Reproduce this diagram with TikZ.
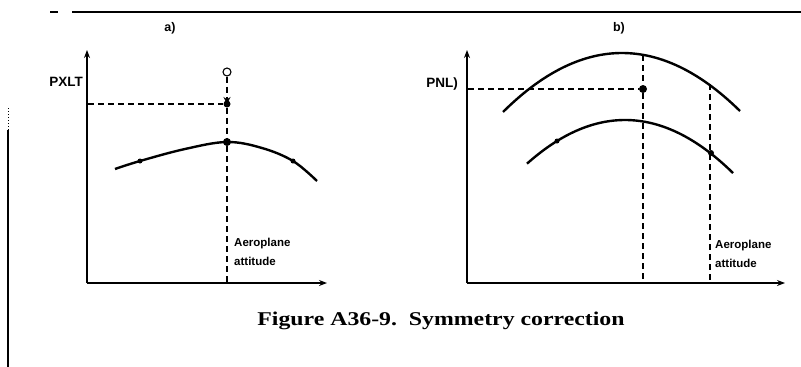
\documentclass[tikz,border=0pt]{standalone}
\usepackage{fontspec}
\setmainfont{Liberation Serif}
\newfontfamily\labfont{Liberation Sans}
\usetikzlibrary{arrows.meta}
\begin{document}
\begin{tikzpicture}[x=1pt,y=-1pt,
  axis/.style={line width=1.6pt,-{Stealth[length=8pt,width=6pt]}},
  guide/.style={dash pattern=on 6pt off 4pt,line width=1.2pt},
  curve/.style={line width=2.4pt},
  rule/.style={line width=1.5pt},
  lbl/.style={font=\labfont\bfseries\fontsize{11.5}{19}\selectfont,inner sep=0pt,anchor=north west,align=left},
  axlbl/.style={font=\labfont\bfseries\fontsize{12.5}{14}\selectfont,inner sep=0pt},
  dot/.style={circle,fill=black,inner sep=0pt,minimum size=#1},
  dot/.default=6pt]
\useasboundingbox (0,0) rectangle (801,367);
% page rules
\draw[rule] (50,12) -- (58,12);
\draw[rule] (72,12) -- (801,12);
\draw[line width=1pt,dotted] (8,108) -- (8,130);
\draw[line width=1.5pt] (8,130) -- (8,367);
% ---------- panel a ----------
\node[axlbl] (ta) at (170,28) {a)};
\coordinate (oa) at (87,283);
\coordinate (ya) at (87,50);
\coordinate (xa) at (327,283);
\draw[axis] (oa) -- (ya);
\draw[axis] (oa) -- (xa);
\node[axlbl,anchor=east,font=\labfont\bfseries\fontsize{13.5}{15}\selectfont] (la) at (83,82) {PXLT};
\draw[curve] plot[smooth,tension=0.6] coordinates {(115,169) (140,161) (185,149) (227,142) (262,148) (293,161) (317,181)};
\node[dot=5pt] (ma1) at (140,161) {};
\node[dot=5pt] (ma2) at (293,161) {};
\node[dot=8pt] (ka) at (227,142) {};
\node[circle,draw,line width=1.1pt,inner sep=0pt,minimum size=8pt] (oc) at (227,72) {};
\coordinate (pa) at (227,104);
\coordinate (ha) at (88,104);
\coordinate (ba) at (227,283);
\draw[guide,-{Stealth[length=7pt,width=7pt]}] (oc) -- (pa);
\node[dot=7pt] (da) at (pa) {};
\draw[guide] (ha) -- (da);
\draw[guide] (da) -- (ka);
\draw[guide,line width=2pt] (ka) -- (ba);
\node[lbl] (aa) at (234,238) {Aeroplane\\attitude};
% ---------- panel b ----------
\node[axlbl] (tb) at (619,28) {b)};
\coordinate (ob) at (467,283);
\coordinate (yb) at (467,50);
\coordinate (xb) at (785,283);
\draw[axis] (ob) -- (yb);
\draw[axis] (ob) -- (xb);
\node[axlbl,anchor=east,font=\labfont\bfseries\fontsize{13.5}{15}\selectfont] (lb) at (458,84) {PNL)};
\draw[curve,domain=503:740,samples=60] plot (\x,{53+0.00417*(\x-622)*(\x-622)});
\draw[curve,domain=527:733,samples=60] plot (\x,{120+0.00455*(\x-625)*(\x-625)});
\node[dot=5pt] (mb1) at (557,141) {};
\node[dot=6pt] (mb2) at (711,153) {};
\coordinate (tu) at (643,55);
\coordinate (pb) at (643,89);
\coordinate (hb) at (468,89);
\coordinate (bb) at (643,283);
\coordinate (tr) at (710,84);
\coordinate (br) at (710,283);
\node[dot=8pt] (db) at (pb) {};
\draw[guide] (hb) -- (db);
\draw[guide] (tu) -- (db);
\draw[guide] (db) -- (bb);
\draw[guide,line width=1.8pt] (tr) -- (br);
\node[lbl] (ab) at (715,240) {Aeroplane\\attitude};
% caption
\node[font=\bfseries\fontsize{19.5}{22}\selectfont,inner sep=0pt] (cap) at (441,321) {\scalebox{1.22}[1]{Figure A36-9.\ \ Symmetry correction}};
\end{tikzpicture}
\end{document}
